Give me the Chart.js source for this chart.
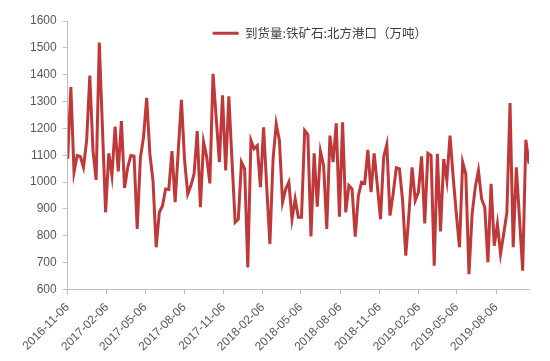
<!DOCTYPE html>
<html>
<head>
<meta charset="utf-8">
<script src="https://cdn.jsdelivr.net/npm/chart.js@4.4.1/dist/chart.umd.min.js"></script>
<style>
  html, body { margin: 0; padding: 0; background: #ffffff; }
  #wrap { width: 550px; height: 361px; position: relative; }
</style>
</head>
<body>
<div id="wrap"><canvas id="c" width="550" height="361"></canvas></div>
<script>
// ---- data ----
const seriesName = '到货量:铁矿石:北方港口（万吨）';
const firstDate = '2016-11-06';
const lastDate = '2019-10-22';
const tickLabels = ['2016-11-06','2017-02-06','2017-05-06','2017-08-06','2017-11-06','2018-02-06',
                    '2018-05-06','2018-08-06','2018-11-06','2019-02-06','2019-05-06','2019-08-06'];
const yTicks = [600, 700, 800, 900, 1000, 1100, 1200, 1300, 1400, 1500, 1600];
const values = [
  1086,1354,1037,1099,1095,1055,1155,1397,1117,1008,1520,1200,887,1107,1024,1207,1040,1227,978,1055,1099,1096,825,1090,
  1167,1314,1105,1005,757,887,912,974,972,1115,925,1117,1306,1080,956,987,1030,1190,906,1149,1093,995,1403,1240,1074,
  1323,1043,1319,1080,850,862,1074,1049,682,1155,1124,1136,981,1204,980,769,1086,1217,1155,925,974,1000,862,937,869,
  869,1192,1177,797,1107,908,1114,1061,825,1173,1074,1219,871,1223,887,987,974,797,949,999,995,1120,962,1107,987,862,
  1093,1140,875,956,1053,1049,931,726,881,1055,931,962,1096,846,1107,1099,688,1105,816,1086,1006,1173,1018,881,757,
  1074,1030,657,881,981,1043,937,906,701,993,763,844,732,807,887,1294,757,1055,862,670,1157,1068
];

// point dates: evenly spread between first and last observation
const t0 = Date.parse(firstDate), t1 = Date.parse(lastDate);
const points = values.map((v, i) => ({ x: t0 + i * (t1 - t0) / (values.length - 1), y: v }));

const axisColor = '#BFBFBF';
const textColor = '#595959';
const lineColor = 'rgb(192,57,58)';

// move the in-plot legend to where the reference has it
const legendShift = {
  id: 'legendShift',
  afterLayout(chart) {
    const lg = chart.legend;
    if (lg) { lg.left += 137; lg.right += 137; lg.top += 19; lg.bottom += 19; }
  }
};

new Chart(document.getElementById('c'), {
  type: 'line',
  data: {
    datasets: [{
      label: seriesName,
      data: points,
      borderColor: lineColor,
      backgroundColor: lineColor,
      borderWidth: 3,
      pointRadius: 0,
      tension: 0,
      fill: false
    }]
  },
  options: {
    responsive: false,
    animation: false,
    devicePixelRatio: 1,
    layout: { padding: { left: 24, right: 21, top: 21, bottom: 1 } },
    plugins: {
      tooltip: { enabled: false },
      legend: {
        position: 'chartArea',
        align: 'start',
        labels: {
          usePointStyle: true,
          pointStyle: 'line',
          pointStyleWidth: 26,
          boxHeight: 12,
          padding: 8,
          color: '#404040',
          font: { family: '"Noto Sans CJK SC", "Noto Sans", sans-serif', size: 12.5 }
        }
      }
    },
    scales: {
      x: {
        type: 'linear',
        min: t0,
        max: t1,
        afterBuildTicks(axis) {
          axis.ticks = tickLabels.map(s => ({ value: Date.parse(s) }));
        },
        ticks: {
          autoSkip: false,
          maxRotation: 45,
          minRotation: 45,
          padding: 6,
          color: textColor,
          font: { family: '"Liberation Sans", Arial, sans-serif', size: 12 },
          callback: (v, i) => tickLabels[i]
        },
        grid: { display: true, drawOnChartArea: false, drawTicks: true, tickLength: 5, color: axisColor },
        border: { display: true, color: axisColor, width: 1 }
      },
      y: {
        type: 'linear',
        min: yTicks[0],
        max: yTicks[yTicks.length - 1],
        afterBuildTicks(axis) {
          axis.ticks = yTicks.map(v => ({ value: v }));
        },
        ticks: {
          padding: 6,
          color: textColor,
          font: { family: '"Liberation Sans", Arial, sans-serif', size: 12 },
          callback: (v) => String(v)
        },
        grid: { display: true, drawOnChartArea: false, drawTicks: true, tickLength: 5, color: axisColor },
        border: { display: true, color: axisColor, width: 1 }
      }
    }
  },
  plugins: [legendShift]
});
</script>
</body>
</html>
